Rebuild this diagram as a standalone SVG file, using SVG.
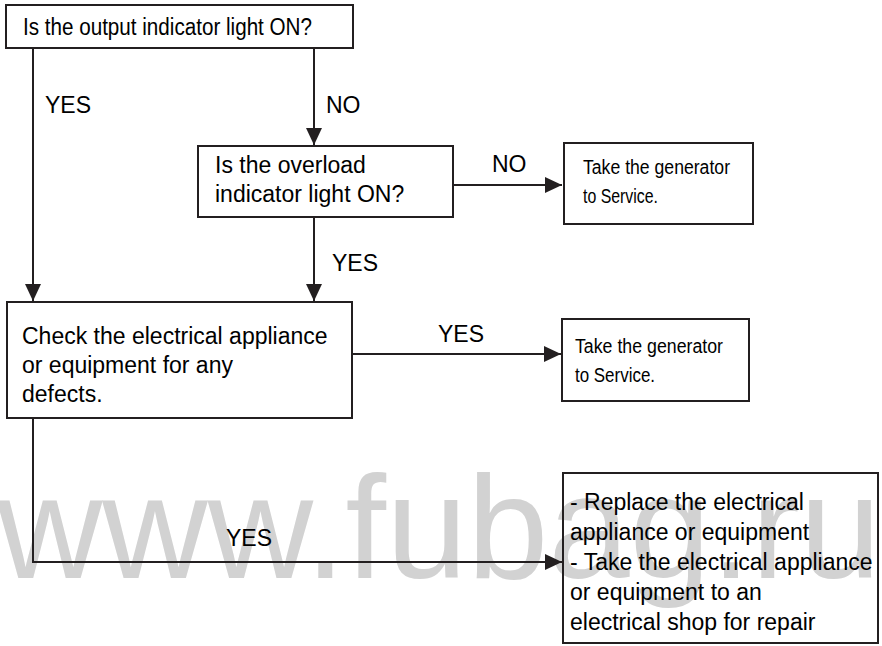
<svg xmlns="http://www.w3.org/2000/svg" width="882" height="646" viewBox="0 0 882 646">
<style>
.box{fill:none;stroke:#231f20;stroke-width:2}
.ln{fill:none;stroke:#231f20;stroke-width:2}
.t{font-family:"Liberation Sans",Arial,sans-serif;font-size:23px;fill:#000}
.n{font-family:"Liberation Sans",Arial,sans-serif;font-size:20px;fill:#000}
.wm{font-family:"Liberation Sans",Arial,sans-serif;font-size:146px;fill:#d2d2d2}
</style>
<defs>
<marker id="ah" markerWidth="17" markerHeight="16" refX="17" refY="8" orient="auto" markerUnits="userSpaceOnUse">
<path d="M0,0 L17,8 L0,16 Z" fill="#231f20"/>
</marker>
</defs>
<rect width="882" height="646" fill="#fff"/>
<text class="wm" x="-3" y="578" textLength="884" lengthAdjust="spacingAndGlyphs">www.fubag.ru</text>

<g id="connectors">
<line class="ln" x1="33" y1="48" x2="33" y2="301" marker-end="url(#ah)"/>
<line class="ln" x1="314" y1="48" x2="314" y2="145" marker-end="url(#ah)"/>
<line class="ln" x1="314" y1="217" x2="314" y2="301" marker-end="url(#ah)"/>
<line class="ln" x1="453" y1="185" x2="562" y2="185" marker-end="url(#ah)"/>
<line class="ln" x1="352" y1="354" x2="561" y2="354" marker-end="url(#ah)"/>
<polyline class="ln" points="33,418 33,562 562,562" marker-end="url(#ah)"/>
<text class="t" x="45" y="113" font-size="21">YES</text>
<text class="t" x="326" y="113" font-size="22">NO</text>
<text class="t" x="492" y="172" font-size="22">NO</text>
<text class="t" x="332" y="271" font-size="21">YES</text>
<text class="t" x="438" y="342" font-size="21">YES</text>
<text class="t" x="226" y="546" font-size="21">YES</text>
</g>

<g id="q1">
<rect class="box" x="6" y="5" width="347" height="43" fill="#fff"/>
<text class="t" x="23" y="35" font-size="21" textLength="289" lengthAdjust="spacingAndGlyphs">Is the output indicator light ON?</text>
</g>

<g id="q2">
<rect class="box" x="198" y="146" width="255" height="71"/>
<text class="t" x="215" y="173">Is the overload</text>
<text class="t" x="215" y="202">indicator light ON?</text>
</g>

<g id="service1">
<rect class="box" x="564" y="143" width="189" height="81"/>
<text class="n" x="583" y="174" textLength="147" lengthAdjust="spacingAndGlyphs">Take the generator</text>
<text class="n" x="583" y="203" textLength="75" lengthAdjust="spacingAndGlyphs">to Service.</text>
</g>

<g id="check">
<rect class="box" x="7" y="302" width="345" height="116"/>
<text class="t" x="22" y="344">Check the electrical appliance</text>
<text class="t" x="22" y="373">or equipment for any</text>
<text class="t" x="22" y="402">defects.</text>
</g>

<g id="service2">
<rect class="box" x="562" y="319" width="187" height="82"/>
<text class="n" x="575" y="353" textLength="148" lengthAdjust="spacingAndGlyphs">Take the generator</text>
<text class="n" x="575" y="382" textLength="80" lengthAdjust="spacingAndGlyphs">to Service.</text>
</g>

<g id="replace">
<rect class="box" x="563" y="473" width="315" height="170"/>
<text class="t" x="570" y="510">- Replace the electrical</text>
<text class="t" x="570" y="540">appliance or equipment</text>
<text class="t" x="570" y="570">- Take the electrical appliance</text>
<text class="t" x="570" y="600">or equipment to an</text>
<text class="t" x="570" y="630">electrical shop for repair</text>
</g>
</svg>
